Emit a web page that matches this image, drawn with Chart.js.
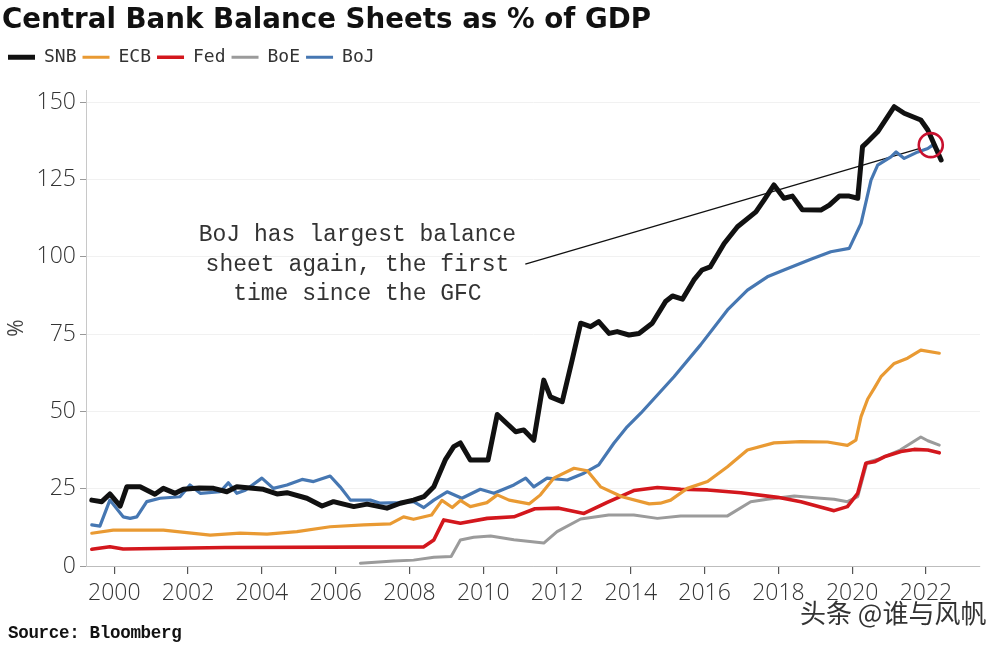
<!DOCTYPE html>
<html>
<head>
<meta charset="utf-8">
<script src="https://cdn.jsdelivr.net/npm/chart.js@4.4.1/dist/chart.umd.min.js"></script>
<style>
  html, body { margin: 0; padding: 0; background: #ffffff; }
  #wrap { position: relative; width: 1000px; height: 654px; overflow: hidden; background: #fff; }
  #c { position: absolute; left: 0; top: 0; }
  #source { position: absolute; left: 8px; top: 623px; font: bold 17.5px "Liberation Mono", monospace; color: #111; letter-spacing: -0.3px; }
  #mark { position: absolute; left: 800px; top: 593px; font: 26px "Noto Sans CJK SC", sans-serif; color: #333; }
</style>
</head>
<body>
<div id="wrap">
  <canvas id="c" width="1000" height="654"></canvas>
  <div id="source">Source: Bloomberg</div>
  <div id="mark">头条 @谁与风帆</div>
</div>
<script>
// ---- Data ----
const seriesNames = ["SNB", "ECB", "Fed", "BoE", "BoJ"];
const xTickYears = [2000, 2002, 2004, 2006, 2008, 2010, 2012, 2014, 2016, 2018, 2020, 2022];
const yTickValues = [0, 25, 50, 75, 100, 125, 150];

const snbYears = [1999.39,1999.66,1999.88,2000.16,2000.34,2000.70,2001.10,2001.33,2001.65,2001.87,2002.30,2002.69,2003.05,2003.32,2004.04,2004.41,2004.68,2005.22,2005.63,2005.94,2006.49,2006.85,2007.39,2007.75,2008.11,2008.39,2008.66,2008.97,2009.20,2009.38,2009.65,2010.13,2010.38,2010.88,2011.10,2011.37,2011.64,2011.82,2012.14,2012.41,2012.64,2012.91,2013.13,2013.41,2013.63,2013.95,2014.22,2014.58,2014.94,2015.13,2015.40,2015.71,2015.93,2016.15,2016.53,2016.89,2017.39,2017.61,2017.88,2018.15,2018.38,2018.65,2019.15,2019.38,2019.65,2019.92,2020.15,2020.28,2020.42,2020.69,2021.14,2021.41,2021.86,2022.05,2022.41];
const snbValues = [21.3,20.8,23.3,19.4,25.6,25.6,23.2,25.1,23.5,24.8,25.2,25.1,24.0,25.6,24.8,23.3,23.7,21.9,19.4,20.8,19.2,20.0,18.7,20.3,21.3,22.4,25.6,34.3,38.6,39.8,34.3,34.3,49.0,43.4,44.0,40.7,60.1,54.7,53.1,66.6,78.5,77.4,79.0,75.2,75.8,74.7,75.2,78.5,85.5,87.3,86.3,92.5,95.7,96.7,104.3,109.7,114.5,118.3,123.2,118.9,119.6,115.2,115.1,116.7,119.6,119.6,118.9,135.6,137.2,140.4,148.5,146.4,144.2,141.0,131.3];

const ecbYears = [1999.39,1999.97,2001.33,2002.60,2003.41,2004.14,2004.95,2005.85,2006.76,2007.48,2007.84,2008.11,2008.60,2008.88,2009.16,2009.38,2009.65,2010.10,2010.38,2010.70,2011.25,2011.55,2011.91,2012.46,2012.82,2013.18,2013.76,2014.50,2014.80,2015.08,2015.53,2016.08,2016.62,2017.16,2017.88,2018.61,2019.33,2019.87,2020.10,2020.24,2020.42,2020.60,2020.78,2021.14,2021.50,2021.86,2022.36];
const ecbValues = [10.6,11.6,11.6,10.0,10.6,10.3,11.1,12.7,13.3,13.6,15.9,15.1,16.5,21.2,18.9,21.2,19.2,20.5,23.0,21.3,20.1,23.0,28.4,31.6,30.8,25.6,22.4,20.1,20.3,21.3,25.1,27.3,32.1,37.5,39.8,40.2,40.1,39.0,40.7,48.3,54.0,57.5,61.2,65.5,67.2,69.8,68.8];

const fedYears = [1999.39,1999.88,2000.24,2003.00,2008.39,2008.66,2008.93,2009.38,2010.11,2010.83,2011.40,2012.05,2012.73,2013.36,2014.08,2014.72,2015.35,2016.08,2016.98,2017.98,2018.61,2019.51,2019.87,2020.15,2020.37,2020.60,2020.87,2021.32,2021.68,2022.05,2022.36];
const fedValues = [5.4,6.2,5.5,6.0,6.2,8.4,14.9,13.8,15.4,15.9,18.5,18.7,17.0,20.6,24.4,25.4,24.8,24.6,23.7,22.2,20.8,17.9,19.2,23.5,33.2,33.7,35.3,37.0,37.7,37.5,36.6];

const boeYears = [2006.67,2007.57,2008.11,2008.66,2009.13,2009.38,2009.74,2010.20,2010.83,2011.64,2012.00,2012.64,2013.40,2014.08,2014.72,2015.35,2016.62,2017.25,2017.70,2018.43,2019.15,2019.51,2019.87,2020.15,2020.40,2020.70,2021.30,2021.86,2022.05,2022.36];
const boeValues = [0.9,1.6,1.9,2.8,3.1,8.4,9.3,9.7,8.5,7.4,11.1,15.2,16.5,16.5,15.4,16.2,16.2,20.8,21.6,22.6,21.9,21.6,20.8,22.4,33.5,34.5,37.5,41.7,40.5,39.1];

const bojYears = [1999.39,1999.61,1999.88,2000.24,2000.43,2000.61,2000.88,2001.24,2001.78,2002.05,2002.33,2002.87,2003.09,2003.32,2003.55,2004.00,2004.31,2004.68,2005.09,2005.40,2005.85,2006.12,2006.40,2006.94,2007.21,2007.70,2008.11,2008.39,2008.66,2009.02,2009.42,2009.92,2010.29,2010.83,2011.15,2011.37,2011.73,2012.28,2012.73,2013.13,2013.54,2013.90,2014.27,2015.17,2015.89,2016.62,2017.16,2017.70,2018.15,2018.88,2019.42,2019.92,2020.24,2020.51,2020.69,2021.05,2021.19,2021.41,2021.78,2022.05,2022.18,2022.36];
const bojValues = [13.3,12.9,21.3,15.9,15.4,15.9,20.8,21.9,22.4,26.2,23.5,24.0,26.9,23.5,24.5,28.4,25.1,26.2,28.0,27.3,29.1,25.6,21.3,21.3,20.3,20.5,20.8,18.9,21.3,24.0,21.9,24.8,23.5,26.2,28.4,25.6,28.4,27.8,30.0,32.7,39.7,45.0,49.4,61.2,71.5,82.8,89.2,93.5,95.7,99.2,101.6,102.7,110.8,124.8,129.6,132.3,133.9,131.8,133.9,135.0,136.1,133.9];

// Annotation (data coordinates)
const annotText = ["BoJ has largest balance", "sheet again, the first", "time since the GFC"];
const annotTextYear = 2006.59;
const annotTextValues = [107.0, 97.3, 87.9];
const annotLineYears = [2011.14, 2021.86];
const annotLineValues = [97.6, 135.1];
const circleYear = [2022.13];
const circleValue = [136.1];

// ---- Build ----
const toPts = (xs, ys) => xs.map((x, i) => ({x: x, y: ys[i]}));
const colors = {SNB: "#111111", ECB: "#e99a33", Fed: "#d3171d", BoE: "#9b9b9b", BoJ: "#4677b2"};
const widths = {SNB: 5, ECB: 3.2, Fed: 3.6, BoE: 3, BoJ: 3.2};
const seriesData = {
  SNB: toPts(snbYears, snbValues),
  ECB: toPts(ecbYears, ecbValues),
  Fed: toPts(fedYears, fedValues),
  BoE: toPts(boeYears, boeValues),
  BoJ: toPts(bojYears, bojValues)
};

const datasets = seriesNames.map(n => ({
  label: n,
  data: seriesData[n],
  borderColor: colors[n],
  backgroundColor: colors[n],
  borderWidth: widths[n],
  pointRadius: 0,
  tension: 0,
  borderJoinStyle: "round",
  borderCapStyle: "round",
  fill: false
}));
datasets.push({
  label: "annot-line",
  data: toPts(annotLineYears, annotLineValues),
  borderColor: "#111",
  borderWidth: 1.3,
  pointRadius: 0,
  fill: false
});
datasets.push({
  label: "annot-circle",
  type: "scatter",
  data: toPts(circleYear, circleValue),
  pointRadius: 12,
  pointBorderWidth: 2.6,
  pointBorderColor: "#c8102e",
  pointBackgroundColor: "rgba(0,0,0,0)",
  showLine: false,
  order: -1
});

const annotPlugin = {
  id: "annotText",
  afterDatasetsDraw(chart) {
    const ctx = chart.ctx;
    const xs = chart.scales.x, ys = chart.scales.y;
    ctx.save();
    ctx.font = '23px "Liberation Mono", monospace';
    ctx.fillStyle = "#333";
    ctx.textAlign = "center";
    ctx.textBaseline = "middle";
    annotText.forEach((t, i) => {
      ctx.fillText(t, xs.getPixelForValue(annotTextYear), ys.getPixelForValue(annotTextValues[i]));
    });
    ctx.restore();
  }
};

const tickFont = {family: '"Open Sans", sans-serif', size: 23, weight: "300"};

new Chart(document.getElementById("c"), {
  type: "line",
  data: {datasets: datasets},
  plugins: [annotPlugin],
  options: {
    responsive: false,
    animation: false,
    devicePixelRatio: 1,
    layout: {padding: {left: 2, right: 20, top: 0, bottom: 0}},
    plugins: {
      tooltip: {enabled: false},
      title: {
        display: true,
        text: "Central Bank Balance Sheets as % of GDP",
        align: "start",
        color: "#111",
        font: {family: '"DejaVu Sans", sans-serif', size: 27.7, weight: "bold"},
        padding: {top: 4, bottom: 5}
      },
      subtitle: {
        display: true,
        text: "",
        weight: 500,
        font: {size: 11.5},
        padding: 0
      },
      legend: {
        display: true,
        align: "start",
        labels: {
          filter: item => item.datasetIndex < 5,
          sort: (a, b) => a.datasetIndex - b.datasetIndex,
          usePointStyle: true,
          pointStyle: "line",
          pointStyleWidth: 27,
          padding: 6,
          color: "#333",
          font: {family: '"DejaVu Sans Mono", monospace', size: 18}
        }
      }
    },
    scales: {
      x: {
        type: "linear",
        min: 1999.233,
        max: 2023.464,
        afterBuildTicks: s => { s.ticks = xTickYears.map(v => ({value: v})); },
        ticks: {
          callback: v => String(v),
          color: "#333",
          font: tickFont,
          padding: 6,
          maxRotation: 0,
          autoSkip: false
        },
        grid: {display: true, drawOnChartArea: false, tickLength: 8, tickColor: "#555", lineWidth: 1.2},
        border: {display: true, color: "#bdbdbd", width: 1},
        afterFit: s => { s.height = 88; }
      },
      y: {
        type: "linear",
        min: 0,
        max: 153.9,
        afterBuildTicks: s => { s.ticks = yTickValues.map(v => ({value: v})); },
        ticks: {
          color: "#333",
          font: tickFont,
          padding: 4
        },
        title: {
          display: true,
          text: "%",
          color: "#444",
          font: {family: '"Open Sans", sans-serif', size: 21},
          padding: {top: 2, bottom: 0}
        },
        grid: {color: "#f1f1f1", lineWidth: 1, tickLength: 6, tickColor: "#999"},
        border: {display: true, color: "#c8c8c8", width: 1},
        afterFit: s => { s.width = 84; }
      }
    }
  }
});
</script>
</body>
</html>
